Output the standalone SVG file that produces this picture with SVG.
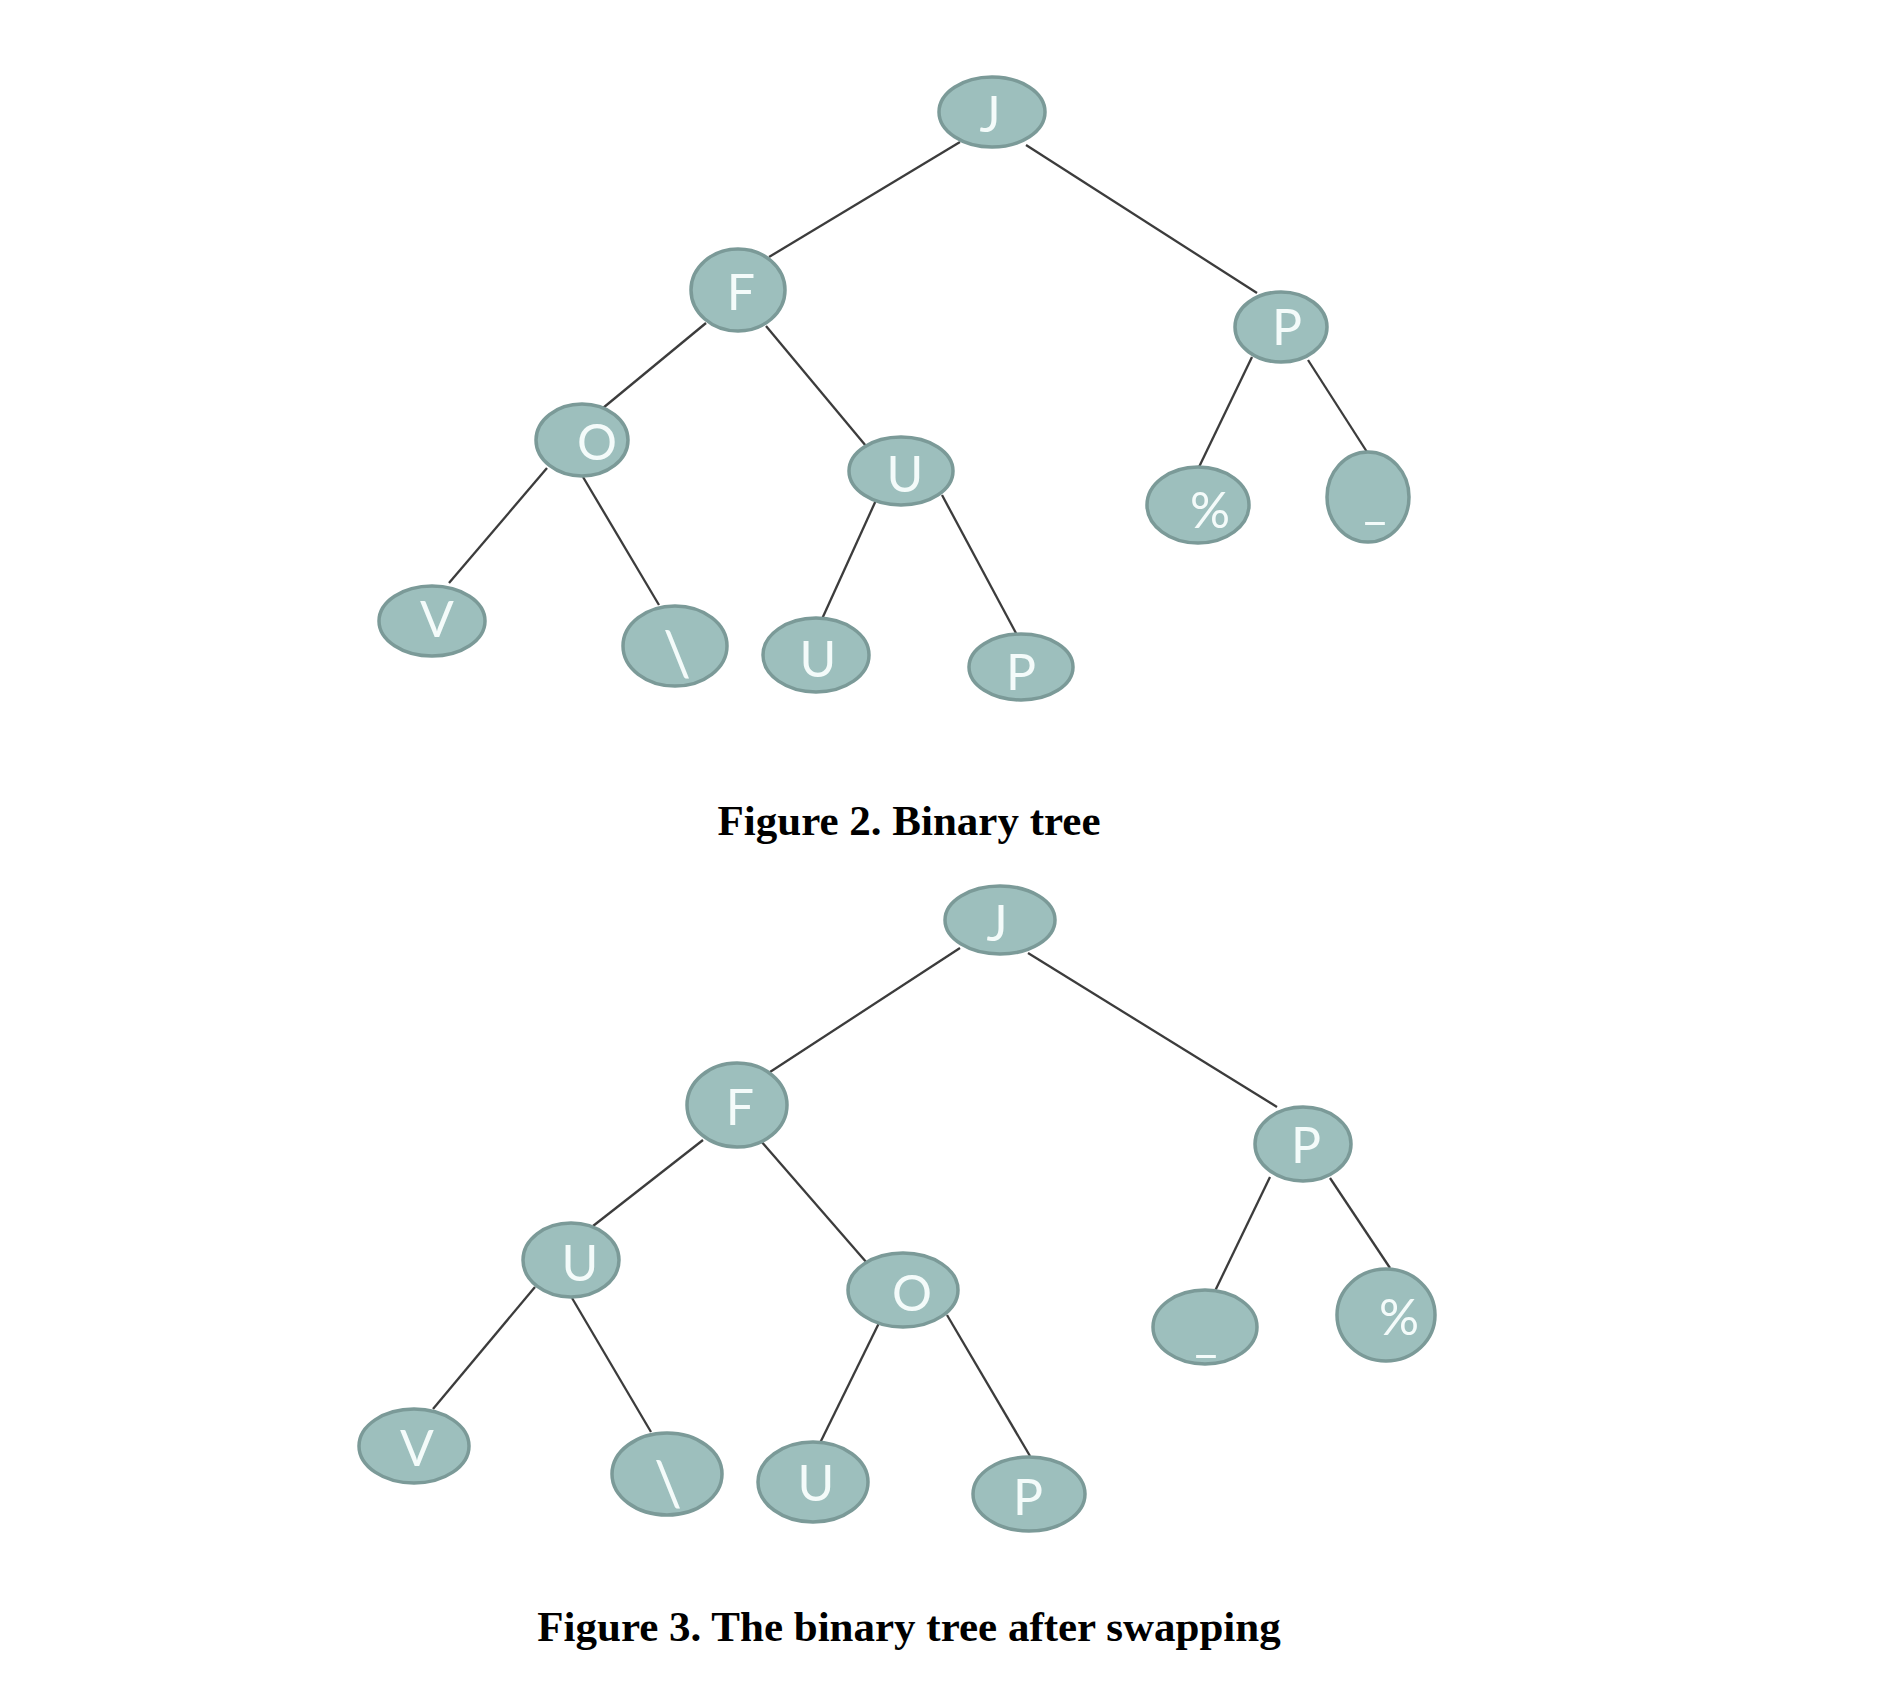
<svg xmlns="http://www.w3.org/2000/svg" width="1892" height="1700" viewBox="0 0 1892 1700">
<style>
.n ellipse{fill:#9dbfbd;stroke:#7b9a98;stroke-width:3.5}
.n text{fill:#f4fbfa;font-family:Lato,"Open Sans",sans-serif;font-weight:400;font-size:50px;text-anchor:middle}
.n text.bs{font-size:62px}
.e line{stroke:#3c3c3c;stroke-width:2.3}
.cap{font-family:"Liberation Serif","Times New Roman",serif;font-weight:bold;font-size:43px;text-anchor:middle;fill:#000}
</style>
<rect width="1892" height="1700" fill="#fff"/>
<g id="edges1" class="e">
<line x1="960" y1="142" x2="769" y2="257"/>
<line x1="1026" y1="145" x2="1257" y2="293"/>
<line x1="706" y1="323" x2="603" y2="408"/>
<line x1="766" y1="326" x2="866" y2="446"/>
<line x1="547" y1="468" x2="449" y2="583"/>
<line x1="583" y1="477" x2="659" y2="605"/>
<line x1="877" y1="498" x2="822" y2="619"/>
<line x1="942" y1="495" x2="1017" y2="635"/>
<line x1="1252" y1="357" x2="1199" y2="467"/>
<line x1="1308" y1="360" x2="1367" y2="452"/>
</g>
<g id="n2_J" class="n"><ellipse cx="992" cy="112" rx="53" ry="35"/><text x="990" y="132">J</text></g>
<g id="n2_F" class="n"><ellipse cx="738" cy="290" rx="47" ry="41"/><text x="741" y="310">F</text></g>
<g id="n2_P" class="n"><ellipse cx="1281" cy="327" rx="46" ry="35"/><text x="1287" y="345">P</text></g>
<g id="n2_O" class="n"><ellipse cx="582" cy="440" rx="46" ry="36"/><text x="597" y="460">O</text></g>
<g id="n2_U" class="n"><ellipse cx="901" cy="471" rx="52" ry="34"/><text x="905" y="492">U</text></g>
<g id="n2_pct" class="n"><ellipse cx="1198" cy="505" rx="51" ry="38"/><text x="1210" y="528">%</text></g>
<g id="n2_us" class="n"><ellipse cx="1368" cy="497" rx="41" ry="45"/><text x="1375" y="518">_</text></g>
<g id="n2_V" class="n"><ellipse cx="432" cy="621" rx="53" ry="35"/><text x="437" y="637">V</text></g>
<g id="n2_bs" class="n"><ellipse cx="675" cy="646" rx="52" ry="40"/><text class="bs" x="677" y="676">\</text></g>
<g id="n2_U2" class="n"><ellipse cx="816" cy="655" rx="53" ry="37"/><text x="818" y="677">U</text></g>
<g id="n2_P2" class="n"><ellipse cx="1021" cy="667" rx="52" ry="33"/><text x="1021" y="690">P</text></g>
<text class="cap" x="909" y="835">Figure 2. Binary tree</text>
<g id="edges2" class="e">
<line x1="960" y1="948" x2="770" y2="1072"/>
<line x1="1028" y1="953" x2="1277" y2="1107"/>
<line x1="703" y1="1140" x2="593" y2="1226"/>
<line x1="760" y1="1140" x2="867" y2="1263"/>
<line x1="535" y1="1287" x2="433" y2="1409"/>
<line x1="572" y1="1298" x2="651" y2="1432"/>
<line x1="879" y1="1323" x2="820" y2="1443"/>
<line x1="947" y1="1315" x2="1030" y2="1456"/>
<line x1="1270" y1="1177" x2="1215" y2="1291"/>
<line x1="1330" y1="1178" x2="1390" y2="1268"/>
</g>
<g id="n3_J" class="n"><ellipse cx="1000" cy="920" rx="55" ry="34"/><text x="997" y="941">J</text></g>
<g id="n3_F" class="n"><ellipse cx="737" cy="1105" rx="50" ry="42"/><text x="740" y="1125">F</text></g>
<g id="n3_P" class="n"><ellipse cx="1303" cy="1144" rx="48" ry="37"/><text x="1306" y="1163">P</text></g>
<g id="n3_U" class="n"><ellipse cx="571" cy="1260" rx="48" ry="37"/><text x="580" y="1281">U</text></g>
<g id="n3_O" class="n"><ellipse cx="903" cy="1290" rx="55" ry="37"/><text x="912" y="1311">O</text></g>
<g id="n3_us" class="n"><ellipse cx="1205" cy="1327" rx="52" ry="37"/><text x="1206" y="1351">_</text></g>
<g id="n3_pct" class="n"><ellipse cx="1386" cy="1315" rx="49" ry="46"/><text x="1399" y="1335">%</text></g>
<g id="n3_V" class="n"><ellipse cx="414" cy="1446" rx="55" ry="37"/><text x="417" y="1466">V</text></g>
<g id="n3_bs" class="n"><ellipse cx="667" cy="1474" rx="55" ry="41"/><text class="bs" x="668" y="1506">\</text></g>
<g id="n3_U2" class="n"><ellipse cx="813" cy="1482" rx="55" ry="40"/><text x="816" y="1501">U</text></g>
<g id="n3_P2" class="n"><ellipse cx="1029" cy="1494" rx="56" ry="37"/><text x="1028" y="1515">P</text></g>
<text class="cap" x="909" y="1641">Figure 3. The binary tree after swapping</text>
</svg>
